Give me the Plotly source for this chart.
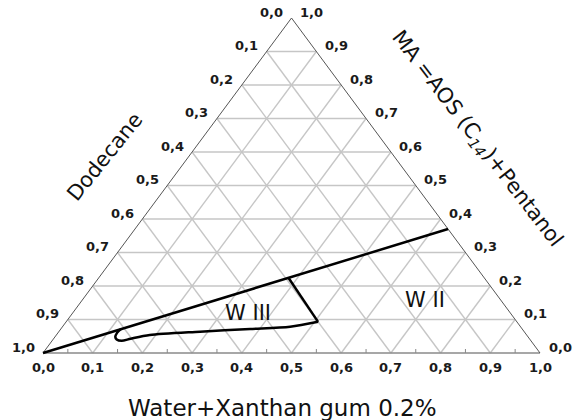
import plotly.graph_objects as go

# ---------------- data ----------------
tick_values = [0.0, 0.1, 0.2, 0.3, 0.4, 0.5, 0.6, 0.7, 0.8, 0.9, 1.0]
bottom_labels = ["0,0", "0,1", "0,2", "0,3", "0,4", "0,5", "0,6", "0,7", "0,8", "0,9", "1,0"]
left_labels = ["0,0", "0,1", "0,2", "0,3", "0,4", "0,5", "0,6", "0,7", "0,8", "0,9", "1,0"]
right_labels = ["0,0", "0,1", "0,2", "0,3", "0,4", "0,5", "0,6", "0,7", "0,8", "0,9", "1,0"]
grid_values = [0.1, 0.2, 0.3, 0.4, 0.5, 0.6, 0.7, 0.8, 0.9]
minor_ticks = [0.05, 0.15, 0.25, 0.35, 0.45, 0.55, 0.65, 0.75, 0.85, 0.95]

# phase boundaries, ternary (Water fraction, MA fraction)
upper_water = [0.0, 0.63]
upper_ma = [0.0, 0.37]
step_water = [0.383, 0.507]
step_ma = [0.223, 0.093]
lower_water = [0.507, 0.458, 0.381, 0.284, 0.188, 0.155, 0.140, 0.128, 0.1215, 0.1190, 0.121]
lower_ma = [0.093, 0.0785, 0.0716, 0.0636, 0.0537, 0.0425, 0.0365, 0.0405, 0.0480, 0.0600, 0.0711]

region_labels = ["W III", "W II"]
region_water = [0.353, 0.690]
region_ma = [0.119, 0.158]

axis_bottom = "Water+Xanthan gum 0.2%"
axis_left = "Dodecane"
axis_right = "MA =AOS (C<sub><i>14</i></sub>)+Pentanol"

W, H = 579, 420
# pixel geometry of the triangle
PX_L, PX_R, PY_B, PY_T = 43.0, 540.0, 353.0, 18.0
UX = PX_R - PX_L
UY = PY_B - PY_T


def to_xy(w, m):
    return w + m / 2.0, m


def xy_lists(ws, ms):
    xs, ys = [], []
    for w, m in zip(ws, ms):
        x, y = to_xy(w, m)
        xs.append(x)
        ys.append(y)
    return xs, ys


def px_to_data(px, py):
    return (px - PX_L) / UX, (PY_B - py) / UY


fig = go.Figure()

GRID = "#c6c6c6"
gx, gy = [], []
for t in grid_values:
    for (a, b) in [((0.0, t), (1 - t, t)),        # MA = t
                   ((t, 0.0), (t, 1 - t)),        # Water = t
                   ((1 - t, 0.0), (0.0, 1 - t))]:  # Dodecane = t
        x0, y0 = to_xy(*a)
        x1, y1 = to_xy(*b)
        gx += [x0, x1, None]
        gy += [y0, y1, None]
fig.add_trace(go.Scatter(x=gx, y=gy, mode="lines", line=dict(color=GRID, width=1.4),
                         hoverinfo="skip"))

# minor ticks on bottom edge
tx, ty = [], []
for t in minor_ticks:
    tx += [t, t, None]
    ty += [0.0, 4.0 / UY, None]
fig.add_trace(go.Scatter(x=tx, y=ty, mode="lines", line=dict(color="#888888", width=1),
                         hoverinfo="skip"))

# triangle edges
fig.add_trace(go.Scatter(x=[0, 1], y=[0, 0], mode="lines",
                         line=dict(color="#8a8a8a", width=1.5), hoverinfo="skip"))
fig.add_trace(go.Scatter(x=[0, 0.5, 1], y=[0, 1, 0], mode="lines",
                         line=dict(color="#555555", width=1), hoverinfo="skip"))

# phase boundaries
x, y = xy_lists(upper_water, upper_ma)
fig.add_trace(go.Scatter(x=x, y=y, mode="lines", line=dict(color="black", width=2.5)))
x, y = xy_lists(step_water, step_ma)
fig.add_trace(go.Scatter(x=x, y=y, mode="lines", line=dict(color="black", width=2.5)))
x, y = xy_lists(lower_water, lower_ma)
fig.add_trace(go.Scatter(x=x, y=y, mode="lines",
                         line=dict(color="black", width=2.5, shape="spline", smoothing=0.8)))

annotations = []
TICKFONT = dict(family="DejaVu Sans", size=13, color="#1a1a1a", weight="bold")
for v, lab in zip(tick_values, bottom_labels):
    x, y = to_xy(v, 0.0)
    annotations.append(dict(x=x, y=y, text=lab, showarrow=False, yshift=-14,
                            font=TICKFONT, xanchor="center", yanchor="middle"))
for v, lab in zip(tick_values, left_labels):
    x, y = to_xy(0.0, 1 - v)
    annotations.append(dict(x=x, y=y, text=lab, showarrow=False, xshift=-20, yshift=6,
                            font=TICKFONT, xanchor="center", yanchor="middle"))
for v, lab in zip(tick_values, right_labels):
    x, y = to_xy(1 - v, v)
    annotations.append(dict(x=x, y=y, text=lab, showarrow=False, xshift=20, yshift=6,
                            font=TICKFONT, xanchor="center", yanchor="middle"))

for lab, w, m in zip(region_labels, region_water, region_ma):
    x, y = to_xy(w, m)
    annotations.append(dict(x=x, y=y, text=lab, showarrow=False,
                            font=dict(family="DejaVu Sans", size=21, color="#111111"),
                            xanchor="center", yanchor="middle"))

bx, by = px_to_data(282, 408)
annotations.append(dict(x=bx, y=by, text=axis_bottom, showarrow=False,
                        font=dict(family="DejaVu Sans", size=23, color="#111111"),
                        xanchor="center", yanchor="middle"))
lx, ly = px_to_data(104.5, 157)
annotations.append(dict(x=lx, y=ly, text=axis_left, showarrow=False, textangle=-51,
                        font=dict(family="DejaVu Sans", size=21, color="#111111"),
                        xanchor="center", yanchor="middle"))
rx, ry = px_to_data(477, 139)
annotations.append(dict(x=rx, y=ry, text=axis_right, showarrow=False, textangle=52.5,
                        font=dict(family="DejaVu Sans", size=21, color="#111111"),
                        xanchor="center", yanchor="middle"))

fig.update_layout(
    width=W, height=H,
    margin=dict(l=0, r=0, t=0, b=0),
    paper_bgcolor="white", plot_bgcolor="white",
    showlegend=False,
    hovermode=False,
    xaxis=dict(range=[-PX_L / UX, (W - PX_L) / UX], visible=False, fixedrange=True),
    yaxis=dict(range=[(PY_B - H) / UY, PY_B / UY], visible=False, fixedrange=True),
    annotations=annotations,
)

fig.write_html("out.html",
               config={"displayModeBar": False, "staticPlot": True},
               post_script="document.body.style.margin='0';document.body.style.padding='0';"
                           "document.body.style.overflow='hidden';")
